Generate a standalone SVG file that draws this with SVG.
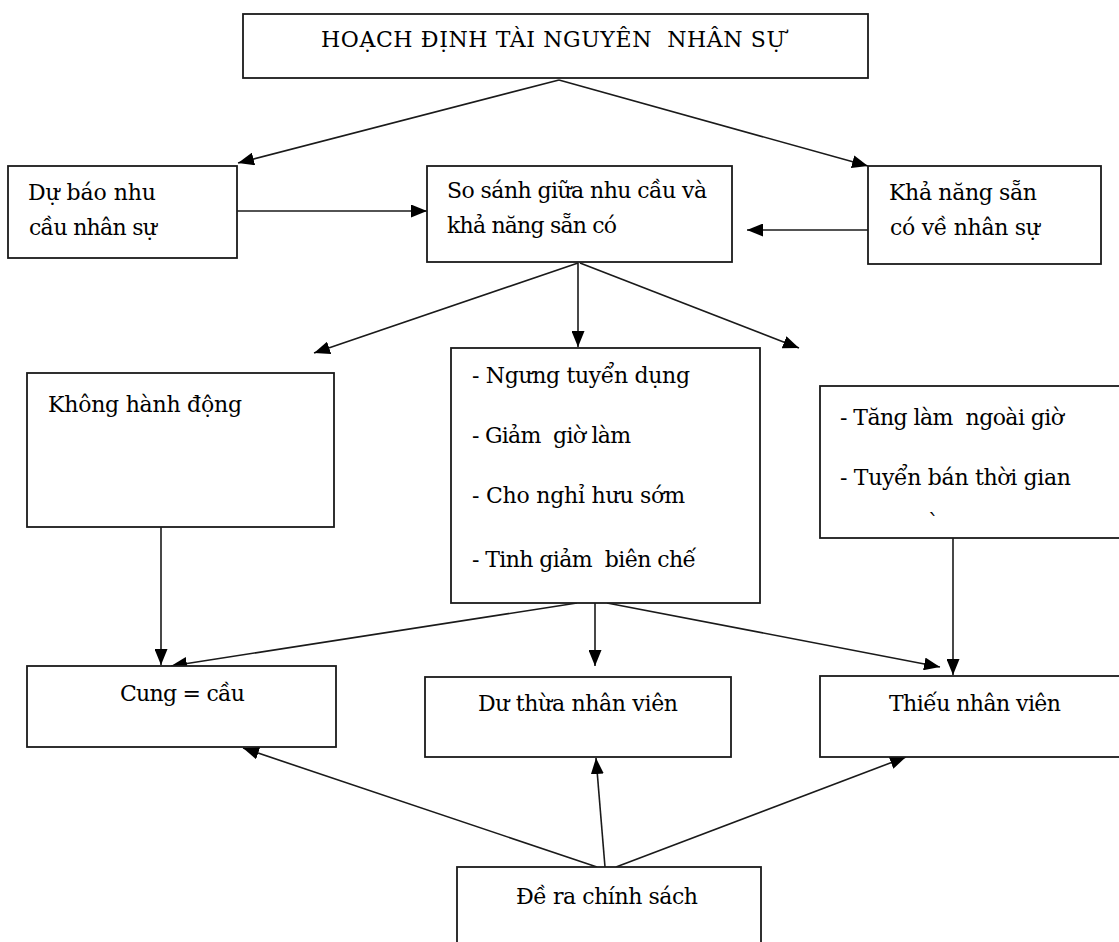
<svg xmlns="http://www.w3.org/2000/svg" width="1119" height="942" viewBox="0 0 1119 942">
<style>
.box{fill:#fff;stroke:#1a1a1a;stroke-width:1.8}
.t{font-family:"DejaVu Serif","Liberation Serif",serif;font-size:22px;fill:#000}
.c{fill:none;stroke:#1a1a1a;stroke-width:1.6;marker-end:url(#ah)}
</style>
<defs>
<marker id="ah" markerUnits="userSpaceOnUse" markerWidth="16" markerHeight="13" viewBox="0 0 16 13" refX="16" refY="6.5" orient="auto">
<path d="M0,0 L16,6.5 L0,13 z" fill="#000"/>
</marker>
</defs>
<rect width="1119" height="942" fill="#fff"/>
<g id="connectors">
<line class="c" x1="559" y1="80" x2="238" y2="163"/>
<line class="c" x1="559" y1="80" x2="868" y2="166"/>
<line class="c" x1="237" y1="211" x2="427" y2="211"/>
<line class="c" x1="868" y1="230" x2="747" y2="230"/>
<line class="c" x1="578" y1="263" x2="314" y2="353"/>
<line class="c" x1="578" y1="263" x2="578" y2="347"/>
<line class="c" x1="580" y1="263" x2="799" y2="348"/>
<line class="c" x1="161" y1="527" x2="161" y2="665"/>
<line class="c" x1="577" y1="603" x2="171" y2="666"/>
<line class="c" x1="595" y1="603" x2="595" y2="666"/>
<line class="c" x1="607" y1="603" x2="940" y2="667"/>
<line class="c" x1="953" y1="538" x2="953" y2="675"/>
<line class="c" x1="597" y1="867" x2="243" y2="748"/>
<line class="c" x1="605" y1="867" x2="596" y2="758"/>
<line class="c" x1="616" y1="867" x2="906" y2="757"/>
</g>
<g id="n-title">
<rect class="box" x="243" y="14" width="625" height="64"/>
<text class="t" x="321" y="47" textLength="464" lengthAdjust="spacing" xml:space="preserve">HOẠCH ĐỊNH TÀI NGUYÊN  NHÂN SỰ</text>
</g>
<g id="n-dubao">
<rect class="box" x="8" y="166" width="229" height="92"/>
<text class="t" x="28" y="200" textLength="128" lengthAdjust="spacing">Dự báo nhu</text>
<text class="t" x="29" y="235" textLength="128" lengthAdjust="spacing">cầu nhân sự</text>
</g>
<g id="n-sosanh">
<rect class="box" x="427" y="166" width="305" height="96"/>
<text class="t" x="447" y="198" textLength="260" lengthAdjust="spacing">So sánh giữa nhu cầu và</text>
<text class="t" x="447" y="233" textLength="170" lengthAdjust="spacing">khả năng sẵn có</text>
</g>
<g id="n-khanang">
<rect class="box" x="868" y="166" width="233" height="98"/>
<text class="t" x="889" y="200" textLength="148" lengthAdjust="spacing">Khả năng sẵn</text>
<text class="t" x="890" y="235" textLength="150" lengthAdjust="spacing">có về nhân sự</text>
</g>
<g id="n-khonghanhdong">
<rect class="box" x="27" y="373" width="307" height="154"/>
<text class="t" x="48" y="412" textLength="194" lengthAdjust="spacing">Không hành động</text>
</g>
<g id="n-ngung">
<rect class="box" x="451" y="348" width="309" height="255"/>
<text class="t" x="472" y="383" textLength="218" lengthAdjust="spacing">- Ngưng tuyển dụng</text>
<text class="t" x="472" y="443" textLength="159" lengthAdjust="spacing" xml:space="preserve">- Giảm  giờ làm</text>
<text class="t" x="472" y="503" textLength="213" lengthAdjust="spacing">- Cho nghỉ hưu sớm</text>
<text class="t" x="472" y="567" textLength="224" lengthAdjust="spacing" xml:space="preserve">- Tinh giảm  biên chế</text>
</g>
<g id="n-tang">
<rect class="box" x="820" y="386" width="310" height="152"/>
<text class="t" x="840" y="425" textLength="224" lengthAdjust="spacing" xml:space="preserve">- Tăng làm  ngoài giờ</text>
<text class="t" x="840" y="485" textLength="231" lengthAdjust="spacing">- Tuyển bán thời gian</text>
<text class="t" x="928" y="530" font-size="14">`</text>
</g>
<g id="n-cung">
<rect class="box" x="27" y="666" width="309" height="81"/>
<text class="t" x="120" y="701" textLength="125" lengthAdjust="spacing">Cung = cầu</text>
</g>
<g id="n-duthua">
<rect class="box" x="425" y="677" width="306" height="80"/>
<text class="t" x="478" y="711" textLength="200" lengthAdjust="spacing">Dư thừa nhân viên</text>
</g>
<g id="n-thieu">
<rect class="box" x="820" y="676" width="310" height="81"/>
<text class="t" x="889" y="711" textLength="172" lengthAdjust="spacing">Thiếu nhân viên</text>
</g>
<g id="n-dera">
<rect class="box" x="457" y="867" width="304" height="90"/>
<text class="t" x="516" y="904" textLength="182" lengthAdjust="spacing">Đề ra chính sách</text>
</g>
</svg>
